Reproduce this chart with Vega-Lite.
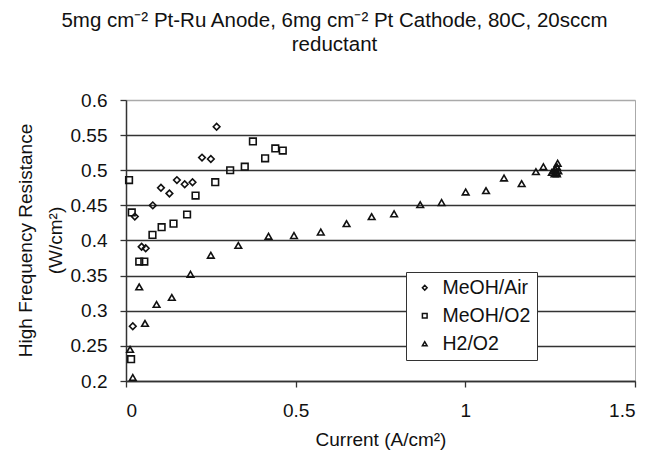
{
  "$schema": "https://vega.github.io/schema/vega-lite/v6.json",
  "autosize": {"type": "none"},
  "width": 509,
  "height": 281,
  "padding": {"left": 126, "top": 100, "right": 13, "bottom": 76},
  "background": "white",
  "title": {
    "text": ["5mg cm⁻² Pt-Ru Anode, 6mg cm⁻² Pt Cathode, 80C, 20sccm", "reductant"],
    "anchor": "middle",
    "frame": "group",
    "dx": -46,
    "offset": 36,
    "font": "Liberation Sans",
    "fontSize": 20.5,
    "fontWeight": "normal",
    "color": "#111",
    "lineHeight": 24
  },
  "data": {
    "values": [
      {"series": "MeOH/Air", "current": 0.02, "hfr": 0.278},
      {"series": "MeOH/Air", "current": 0.026, "hfr": 0.434},
      {"series": "MeOH/Air", "current": 0.046, "hfr": 0.391},
      {"series": "MeOH/Air", "current": 0.058, "hfr": 0.389},
      {"series": "MeOH/Air", "current": 0.079, "hfr": 0.45},
      {"series": "MeOH/Air", "current": 0.103, "hfr": 0.475},
      {"series": "MeOH/Air", "current": 0.128, "hfr": 0.467},
      {"series": "MeOH/Air", "current": 0.15, "hfr": 0.486},
      {"series": "MeOH/Air", "current": 0.173, "hfr": 0.48},
      {"series": "MeOH/Air", "current": 0.196, "hfr": 0.483},
      {"series": "MeOH/Air", "current": 0.224, "hfr": 0.518},
      {"series": "MeOH/Air", "current": 0.25, "hfr": 0.516},
      {"series": "MeOH/Air", "current": 0.267, "hfr": 0.562},
      {"series": "MeOH/O2", "current": 0.009, "hfr": 0.486},
      {"series": "MeOH/O2", "current": 0.015, "hfr": 0.231},
      {"series": "MeOH/O2", "current": 0.017, "hfr": 0.44},
      {"series": "MeOH/O2", "current": 0.039, "hfr": 0.37},
      {"series": "MeOH/O2", "current": 0.054, "hfr": 0.37},
      {"series": "MeOH/O2", "current": 0.078, "hfr": 0.408},
      {"series": "MeOH/O2", "current": 0.105, "hfr": 0.419},
      {"series": "MeOH/O2", "current": 0.14, "hfr": 0.424},
      {"series": "MeOH/O2", "current": 0.18, "hfr": 0.437},
      {"series": "MeOH/O2", "current": 0.205, "hfr": 0.464},
      {"series": "MeOH/O2", "current": 0.263, "hfr": 0.483},
      {"series": "MeOH/O2", "current": 0.307, "hfr": 0.5},
      {"series": "MeOH/O2", "current": 0.35, "hfr": 0.505},
      {"series": "MeOH/O2", "current": 0.374, "hfr": 0.541},
      {"series": "MeOH/O2", "current": 0.41, "hfr": 0.517},
      {"series": "MeOH/O2", "current": 0.44, "hfr": 0.531},
      {"series": "MeOH/O2", "current": 0.462, "hfr": 0.528},
      {"series": "H2/O2", "current": 0.012, "hfr": 0.245},
      {"series": "H2/O2", "current": 0.02, "hfr": 0.205},
      {"series": "H2/O2", "current": 0.039, "hfr": 0.334},
      {"series": "H2/O2", "current": 0.056, "hfr": 0.282},
      {"series": "H2/O2", "current": 0.09, "hfr": 0.309},
      {"series": "H2/O2", "current": 0.135, "hfr": 0.319},
      {"series": "H2/O2", "current": 0.19, "hfr": 0.352},
      {"series": "H2/O2", "current": 0.25, "hfr": 0.379},
      {"series": "H2/O2", "current": 0.331, "hfr": 0.393},
      {"series": "H2/O2", "current": 0.42, "hfr": 0.406},
      {"series": "H2/O2", "current": 0.495, "hfr": 0.407},
      {"series": "H2/O2", "current": 0.574, "hfr": 0.412},
      {"series": "H2/O2", "current": 0.65, "hfr": 0.424},
      {"series": "H2/O2", "current": 0.724, "hfr": 0.434},
      {"series": "H2/O2", "current": 0.79, "hfr": 0.438},
      {"series": "H2/O2", "current": 0.867, "hfr": 0.451},
      {"series": "H2/O2", "current": 0.93, "hfr": 0.454},
      {"series": "H2/O2", "current": 1.001, "hfr": 0.469},
      {"series": "H2/O2", "current": 1.061, "hfr": 0.471},
      {"series": "H2/O2", "current": 1.114, "hfr": 0.489},
      {"series": "H2/O2", "current": 1.166, "hfr": 0.481},
      {"series": "H2/O2", "current": 1.208, "hfr": 0.498},
      {"series": "H2/O2", "current": 1.23, "hfr": 0.505},
      {"series": "H2/O2", "current": 1.255, "hfr": 0.497},
      {"series": "H2/O2", "current": 1.26, "hfr": 0.499},
      {"series": "H2/O2", "current": 1.263, "hfr": 0.495},
      {"series": "H2/O2", "current": 1.266, "hfr": 0.501},
      {"series": "H2/O2", "current": 1.268, "hfr": 0.497},
      {"series": "H2/O2", "current": 1.27, "hfr": 0.505},
      {"series": "H2/O2", "current": 1.272, "hfr": 0.51},
      {"series": "H2/O2", "current": 1.27, "hfr": 0.495},
      {"series": "H2/O2", "current": 1.274, "hfr": 0.499}
    ]
  },
  "mark": {"type": "point", "filled": false, "stroke": "#111", "strokeWidth": 1.6, "size": 44, "opacity": 1},
  "encoding": {
    "x": {
      "field": "current", "type": "quantitative",
      "scale": {"domain": [0, 1.5], "nice": false, "zero": false},
      "axis": {
        "values": [0, 0.5, 1, 1.5], "format": "~g", "grid": false,
        "title": "Current (A/cm²)", "titlePadding": 10,
        "tickSize": 6, "labelPadding": 14
      }
    },
    "y": {
      "field": "hfr", "type": "quantitative",
      "scale": {"domain": [0.2, 0.6], "nice": false, "zero": false},
      "axis": {
        "values": [0.2, 0.25, 0.3, 0.35, 0.4, 0.45, 0.5, 0.55, 0.6], "format": "~g",
        "grid": true,
        "gridColor": {"condition": {"test": "datum.value >= 0.59", "value": "#aaaaaa"}, "value": "#333333"},
        "gridWidth": 1.4,
        "title": ["High Frequency Resistance", "(W/cm²)"],
        "titleX": -110, "titleY": 140, "titleAngle": -90, "titleAlign": "center", "titleBaseline": "top",
        "titleLineHeight": 30,
        "tickSize": 6, "labelPadding": 13
      }
    },
    "shape": {
      "field": "series", "type": "nominal",
      "scale": {"domain": ["MeOH/Air", "MeOH/O2", "H2/O2"], "range": ["diamond", "square", "triangle-up"]},
      "legend": {
        "title": null, "orient": "none", "legendX": 280, "legendY": 172,
        "strokeColor": "#333", "fillColor": "white", "padding": 6,
        "labelFont": "Liberation Sans", "labelFontSize": 19.5, "labelColor": "#111",
        "symbolSize": 22, "symbolOffset": 3, "labelOffset": 8, "rowPadding": 7,
        "encode": {
          "symbols": {
            "update": {
              "stroke": {"value": "#111"},
              "fill": {"value": "white"},
              "strokeWidth": {"value": 1.2},
              "opacity": {"value": 1},
              "size": {"value": 22}
            }
          }
        }
      }
    }
  },
  "config": {
    "view": {"stroke": "#aaaaaa", "strokeWidth": 1},
    "axis": {
      "domainColor": "#333", "domainWidth": 1.5, "tickColor": "#333", "tickWidth": 1.3,
      "labelFont": "Liberation Sans", "labelFontSize": 19, "labelColor": "#111",
      "titleFont": "Liberation Sans", "titleFontSize": 19, "titleFontWeight": "normal", "titleColor": "#111"
    }
  }
}
